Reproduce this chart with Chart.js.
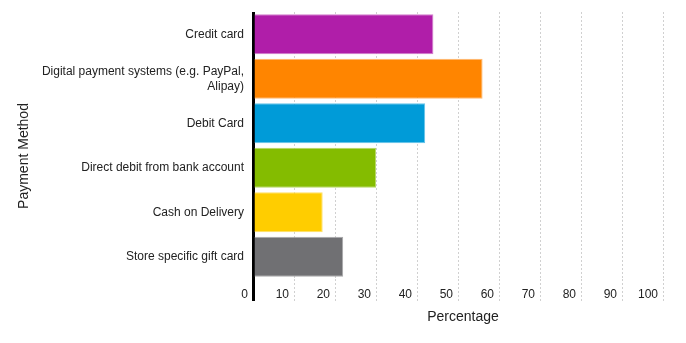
<!DOCTYPE html>
<html>
<head>
<meta charset="utf-8">
<script src="https://cdn.jsdelivr.net/npm/chart.js@4/dist/chart.umd.min.js"></script>
<style>
  html, body { margin: 0; padding: 0; background: #fff; }
  #wrap { width: 686px; height: 343px; }
</style>
</head>
<body>
<div id="wrap"><canvas id="chart"></canvas></div>
<script>
// Payment methods, top to bottom
const categories = [
  'Credit card',
  ['Digital payment systems (e.g. PayPal,', 'Alipay)'],
  'Debit Card',
  'Direct debit from bank account',
  'Cash on Delivery',
  'Store specific gift card'
]

// Share of respondents (%)
const percentages = [44, 56, 42, 30, 17, 22]

// x axis ticks
const xTicks = [0, 10, 20, 30, 40, 50, 60, 70, 80, 90, 100]

// bar fill + lighter outline
const barColors = ['#B01EA9', '#FF8500', '#009BD8', '#84BC00', '#FFCD00', '#707073']
const barBorders = ['#D27CCC', '#FFB870', '#66C4EA', '#B5D766', '#FFE066', '#A8A8AA']

const fontFamily = '"Liberation Sans", Arial, sans-serif'
Chart.defaults.font.family = fontFamily
Chart.defaults.color = '#222'

// axis titles drawn by hand so they can sit exactly where the original has them
const axisTitles = {
  id: 'axisTitles',
  afterDraw(chart) {
    const ctx = chart.ctx
    ctx.save()
    ctx.font = '14px ' + fontFamily
    ctx.fillStyle = '#222'
    ctx.textAlign = 'center'
    ctx.textBaseline = 'middle'
    ctx.fillText('Percentage', 463, 317)
    ctx.translate(24, 156)
    ctx.rotate(-Math.PI / 2)
    ctx.fillText('Payment Method', 0, 0)
    ctx.restore()
  }
}

const config = {
  type: 'bar',
  data: {
    labels: categories,
    datasets: [{
      data: percentages,
      backgroundColor: barColors,
      borderColor: barBorders,
      borderWidth: 1,
      barPercentage: 0.9,
      categoryPercentage: 1.0
    }]
  },
  options: {
    indexAxis: 'y',
    responsive: true,
    maintainAspectRatio: false,
    animation: false,
    layout: { padding: { left: 15, top: 12, right: 23, bottom: 0 } },
    plugins: {
      legend: { display: false },
      tooltip: { enabled: false }
    },
    scales: {
      x: {
        min: 0,
        max: 100,
        afterBuildTicks: function(scale) {
          scale.ticks = xTicks.map(v => ({ value: v }))
        },
        afterFit: function(scale) {
          scale.height = 64
        },
        grid: {
          color: ctx => ctx.index === 0 ? '#000' : '#d0d0d0',
          lineWidth: ctx => ctx.index === 0 ? 3 : 1,
          tickColor: ctx => ctx.index === 0 ? '#000' : '#d0d0d0',
          tickWidth: ctx => ctx.index === 0 ? 3 : 1,
          tickLength: 22,
          tickBorderDash: ctx => ctx.index === 0 ? [] : [2, 2]
        },
        border: {
          display: false,
          dash: ctx => ctx.index === 0 ? [] : [2, 2]
        },
        ticks: {
          align: 'end',
          labelOffset: -5,
          padding: -14,
          font: { size: 12 },
          color: '#222'
        }
      },
      y: {
        afterFit: function(scale) {
          scale.width = 238
          scale.paddingTop = 0
          scale.paddingBottom = 0
        },
        grid: { display: false, drawTicks: false },
        border: { display: false },
        ticks: {
          padding: 9,
          font: { size: 12, lineHeight: 1.25 },
          color: '#222'
        }
      }
    }
  },
  plugins: [axisTitles]
}

new Chart(document.getElementById('chart'), config)
</script>
</body>
</html>
